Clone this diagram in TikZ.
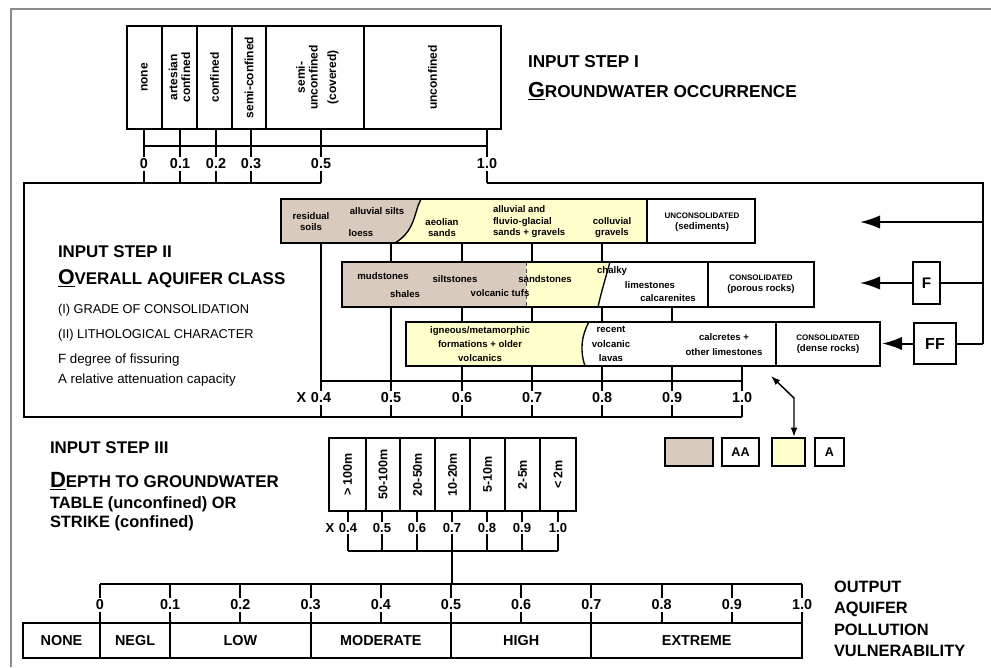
\documentclass[tikz,border=0pt]{standalone}
\usepackage{fontspec}
\setmainfont{Liberation Sans}
\usetikzlibrary{arrows.meta}
\definecolor{soilbrown}{RGB}{216,202,189}
\definecolor{paleyellow}{RGB}{255,255,204}
\definecolor{framegray}{RGB}{140,140,140}
\newcommand\bigul[1]{\setbox0\hbox{#1}\rlap{\rule[-2.6pt]{\wd0}{1.2pt}}\box0}
\begin{document}
\begin{tikzpicture}[x=0.75pt,y=-0.75pt,line width=1.5pt,
  rotlab/.style={rotate=90,align=center,inner sep=0pt,font=\fontsize{9}{9.5}\selectfont\bfseries},
  rotlabc/.style={rotate=90,align=center,inner sep=0pt,font=\fontsize{9.4}{10}\selectfont\bfseries},
  numlab/.style={fill=white,inner sep=1.2pt,font=\fontsize{10.8}{12}\selectfont\bfseries},
  numlabc/.style={fill=white,inner sep=1.2pt,font=\fontsize{9.8}{11}\selectfont\bfseries},
  rowtxt/.style={align=center,inner sep=0pt,font=\fontsize{7.2}{8.6}\selectfont\bfseries},
  rowtxtw/.style={align=center,inner sep=0pt,font=\fontsize{7.2}{10.6}\selectfont\bfseries},
  captxt/.style={align=center,inner sep=0pt,font=\fontsize{7.2}{8}\selectfont\bfseries},
  titletxt/.style={anchor=base west,inner sep=0pt,font=\fontsize{12.7}{14}\selectfont\bfseries},
  titletxtone/.style={anchor=base west,inner sep=0pt,font=\fontsize{12.9}{14}\selectfont\bfseries},
  plaintxt/.style={anchor=base west,inner sep=0pt,font=\fontsize{9.6}{11}\selectfont},
  plaintxtb/.style={anchor=base west,inner sep=0pt,font=\fontsize{10}{11}\selectfont},
  subtxt/.style={anchor=base west,inner sep=0pt,font=\fontsize{12.3}{14}\selectfont\bfseries},
  outtxt/.style={anchor=base west,inner sep=0pt,font=\fontsize{12.3}{14}\selectfont\bfseries},
  classtxt/.style={inner sep=0pt,font=\fontsize{10.8}{12}\selectfont\bfseries},
  keybox/.style={draw,minimum height=21pt,inner sep=0pt,font=\fontsize{9.5}{10}\selectfont\bfseries},
  fbox/.style={draw,fill=white,inner sep=0pt,font=\fontsize{11.5}{12}\selectfont\bfseries},
  bigarrow/.style={-{Latex[length=15pt,width=10pt]}}
]
\useasboundingbox (0,0) rectangle (991,667);
\draw[framegray,line width=0.8pt] (11,667) -- (11,9) -- (991,9);

% ---------- STEP I ----------
\foreach \a/\b in {127/162,162/197,197/232,232/266,266/364,364/501}
  \draw (\a,26) rectangle (\b,129);
\node[rotlab] (c1) at (144.5,77.5) {none};
\node[rotlab] (c2) at (179.5,77.5) {artesian\\confined};
\node[rotlab] (c3) at (214.5,77.5) {confined};
\node[rotlab] (c4) at (249,77.5) {semi-confined};
\node[rotlab] (c5) at (307,77.5) {semi-\\unconfined};
\node[rotlab] (c5b) at (333,77.5) {(covered)};
\node[rotlab] (c6) at (432.5,77.5) {unconfined};

\foreach \x/\l/\n in {144/0/a,180/0.1/b,216/0.2/c,251/0.3/d,321/0.5/e,487/1.0/f}{
  \draw (\x,129) -- (\x,183);
  \node[numlab] (t1\n) at (\x,164) {\l};}
\draw (144,146) -- (487,146);
\draw (321,183) -- (24,183) -- (24,417) -- (742,417);
\draw (487,183) -- (983,183) -- (983,343.5);

\node[titletxtone] (s1a) at (527,68) {INPUT STEP I};
\node[titletxtone] (s1b) at (527,97) {\bigul{\fontsize{16.3}{18}\selectfont G}ROUNDWATER OCCURRENCE};

% ---------- STEP II ----------
\foreach \x in {321,391,462,532,602} \draw (\x,243) -- (\x,417);
\draw (672,307) -- (672,417);
\draw (742,366) -- (742,417);
\draw (321,381) -- (742,381);
\foreach \x/\l/\n in {321/0.4/a,391/0.5/b,462/0.6/c,532/0.7/d,602/0.8/e,672/0.9/f,742/1.0/g}
  \node[numlab] (t2\n) at (\x,398) {\l};
\node[numlab,anchor=east,inner xsep=0.8pt] (t2x) at (t2a.west) {X};

% row 1
\fill[paleyellow] (281,199) rectangle (647,243);
\fill[soilbrown] (281,199) -- (421,199) -- (418,206) .. controls (413,222) and (411,233) .. (395,243) -- (281,243) -- cycle;
\draw[line width=1pt] (421,199) -- (418,206) .. controls (413,222) and (411,233) .. (395,243);
\fill[white] (647,199) rectangle (755,243);
\draw (281,199) rectangle (755,243);
\draw (647,199) -- (647,243);
\node[rowtxt] (r1a) at (311,221.5) {residual\\soils};
\node[rowtxt] (r1b) at (377,211) {alluvial silts};
\node[rowtxt] (r1c) at (361,233) {loess};
\node[rowtxt] (r1d) at (442,227.5) {aeolian\\sands};
\node[rowtxt,anchor=west,align=left] (r1e) at (492,222) {alluvial and\\fluvio-glacial\\sands + gravels};
\node[rowtxt] (r1f) at (612,227.5) {colluvial\\gravels};
\node[captxt] (r1g) at (702,222.5) {{\fontsize{6}{7}\selectfont UNCONSOLIDATED}\\(sediments)};

% row 2
\fill[white] (342,262) rectangle (814,307);
\fill[paleyellow] (526,262) -- (610,262) .. controls (605,280) and (601,293) .. (598,307) -- (526,307) -- cycle;
\fill[soilbrown] (342,262) rectangle (526,307);
\draw[line width=0.6pt,densely dashed,black!70] (526,262) -- (526,307);
\draw[line width=1pt] (610,262) .. controls (605,280) and (601,293) .. (598,307);
\draw (342,262) rectangle (814,307);
\draw (708,262) -- (708,307);
\node[rowtxt] (r2a) at (383,276) {mudstones};
\node[rowtxt] (r2b) at (405,294) {shales};
\node[rowtxt] (r2c) at (455,279) {siltstones};
\node[rowtxt] (r2d) at (500,293) {volcanic tufs};
\node[rowtxt] (r2e) at (545,279) {sandstones};
\node[rowtxt] (r2f) at (612,271) {chalky};
\node[rowtxt] (r2g) at (650,285) {limestones};
\node[rowtxt] (r2h) at (668,298) {calcarenites};
\node[captxt] (r2i) at (761,284) {{\fontsize{6}{7}\selectfont CONSOLIDATED}\\(porous rocks)};

% row 3
\fill[white] (406,322) rectangle (880,366);
\fill[paleyellow] (406,322) -- (589,322) .. controls (581,336) and (580,352) .. (585,366) -- (406,366) -- cycle;
\draw[line width=1pt] (589,322) .. controls (581,336) and (580,352) .. (585,366);
\draw (406,322) rectangle (880,366);
\draw (776,322) -- (776,366);
\node[rowtxtw] (r3a) at (480,344) {igneous/metamorphic\\formations + older\\volcanics};
\node[rowtxtw] (r3b) at (611,344) {recent\\volcanic\\lavas};
\node[rowtxtw] (r3c) at (724,344.5) {calcretes +\\other limestones};
\node[captxt] (r3d) at (828,344.5) {{\fontsize{6}{7}\selectfont CONSOLIDATED}\\(dense rocks)};

% right side arrows
\coordinate (ua) at (860,222);
\coordinate (ub) at (983,222);
\draw[bigarrow] (ub) -- (ua);
\node[fbox,minimum width=20.25pt,minimum height=31.5pt] (F) at (926.5,283) {F};
\coordinate (fa) at (860,283);
\coordinate (fb) at (983,283);
\draw[bigarrow] (F.west) -- (fa);
\draw (F.east) -- (fb);
\node[fbox,minimum width=31.5pt,minimum height=30.75pt,font=\fontsize{12}{13}\selectfont\bfseries] (FF) at (935,343.5) {FF};
\coordinate (ffa) at (882,343.5);
\coordinate (ffb) at (983,343.5);
\draw[bigarrow] (FF.west) -- (ffa);
\draw (FF.east) -- (ffb);

% key
\node[keybox,fill=soilbrown,minimum width=36pt] (kb) at (689,452) {};
\node[keybox,minimum width=27.75pt] (kaa) at (740.5,452) {AA};
\node[keybox,fill=paleyellow,minimum width=24.75pt] (ky) at (788.5,452) {};
\node[keybox,minimum width=21.75pt] (ka) at (829.5,452) {A};
\coordinate (da) at (771,376);
\coordinate (db) at (794,398);
\draw[line width=1.1pt,{Latex[length=7pt,width=5pt]}-{Latex[length=7pt,width=5pt]}] (da) -- (db) -- (ky.north -| db);

% ---------- left texts ----------
\node[titletxt] (s2a) at (57,257) {INPUT STEP II};
\node[titletxt] (s2b) at (57,284) {\bigul{\fontsize{16}{18}\selectfont O}VERALL AQUIFER CLASS};
\node[plaintxt] (s2c) at (57,313) {(I) GRADE OF CONSOLIDATION};
\node[plaintxt] (s2d) at (57,338) {(II) LITHOLOGICAL CHARACTER};
\node[plaintxtb] (s2e) at (57,363) {F degree of fissuring};
\node[plaintxtb] (s2f) at (57,383) {A relative attenuation capacity};

\node[titletxt] (s3a) at (49,453) {INPUT STEP III};
\node[titletxt] (s3b) at (49,487) {\bigul{\fontsize{16.5}{18}\selectfont D}EPTH TO GROUNDWATER};
\node[subtxt] (s3c) at (49,508) {TABLE (unconfined) OR};
\node[subtxt] (s3d) at (49,527) {STRIKE (confined)};

% ---------- STEP III ----------
\foreach \a/\b in {329/366,366/400,400/435,435/470,470/505,505/540,540/576}
  \draw (\a,438) rectangle (\b,511);
\node[rotlabc] (d1) at (347.5,474.5) {> 100m};
\node[rotlabc] (d2) at (383,474.5) {50-100m};
\node[rotlabc] (d3) at (417.5,474.5) {20-50m};
\node[rotlabc] (d4) at (452.5,474.5) {10-20m};
\node[rotlabc] (d5) at (487.5,474.5) {5-10m};
\node[rotlabc] (d6) at (522.5,474.5) {2-5m};
\node[rotlabc] (d7) at (558,474.5) {< 2m};
\foreach \x/\l/\n in {348/0.4/a,382/0.5/b,417/0.6/c,452/0.7/d,487/0.8/e,522/0.9/f,558/1.0/g}{
  \draw (\x,511) -- (\x,551);
  \node[numlabc] (t3\n) at (\x,528) {\l};}
\node[numlabc,anchor=east,inner xsep=0.8pt] (t3x) at (t3a.west) {X};
\draw (348,551) -- (558,551);
\draw (452,551) -- (452,584);

% ---------- OUTPUT ----------
\draw (100,584) -- (802,584);
\foreach \i/\l in {0/0,1/0.1,2/0.2,3/0.3,4/0.4,5/0.5,6/0.6,7/0.7,8/0.8,9/0.9,10/1.0}{
  \draw ({100+70.2*\i},584) -- ({100+70.2*\i},623);
  \node[numlab] (t4n\i) at ({100+70.2*\i},605) {\l};}
\draw (23,623) rectangle (802,658);
\foreach \x in {100,170.2,310.6,451,591.4} \draw (\x,623) -- (\x,658);
\node[classtxt] (v1) at (61.5,640.5) {NONE};
\node[classtxt] (v2) at (135.1,640.5) {NEGL};
\node[classtxt] (v3) at (240.4,640.5) {LOW};
\node[classtxt] (v4) at (380.8,640.5) {MODERATE};
\node[classtxt] (v5) at (521.2,640.5) {HIGH};
\node[classtxt] (v6) at (696.7,640.5) {EXTREME};

\node[outtxt] (o1) at (833,592) {OUTPUT};
\node[outtxt] (o2) at (833,613.5) {AQUIFER};
\node[outtxt] (o3) at (833,635) {POLLUTION};
\node[outtxt] (o4) at (833,656) {VULNERABILITY};
\end{tikzpicture}
\end{document}
